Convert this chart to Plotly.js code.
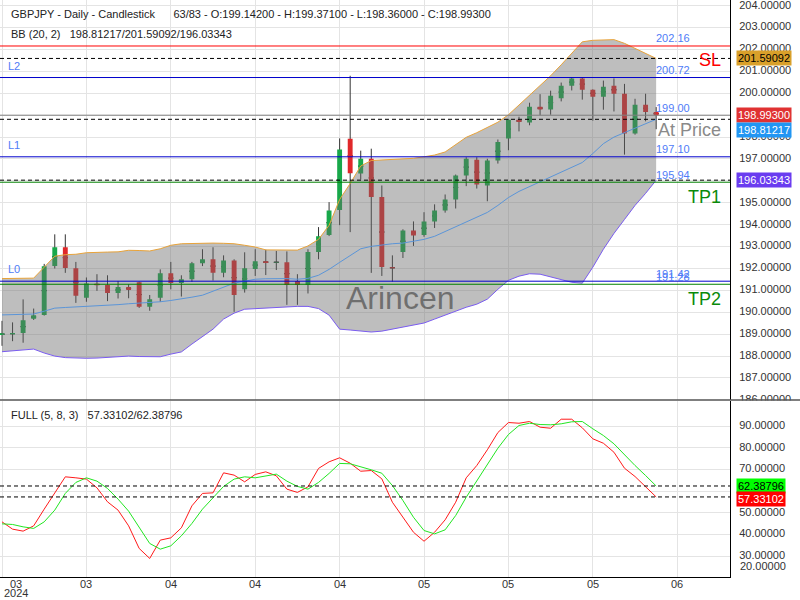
<!DOCTYPE html>
<html><head><meta charset="utf-8">
<script src="https://cdn.plot.ly/plotly-3.0.1.min.js"></script>
<style>body{margin:0;background:#fff}#chart{width:800px;height:600px}</style>
</head><body><div id="chart"></div>
<script>
// ---------- data ----------
const open  = [188.96,189.00,189.05,189.71,189.88,192.11,192.97,192.01,190.66,191.30,
               191.25,190.88,191.16,191.37,190.25,190.66,191.78,191.34,191.51,192.24,
               192.42,191.80,192.37,191.05,191.98,192.33,192.27,192.28,191.43,191.25,
               192.75,193.53,194.67,197.93,196.34,197.01,195.26,192.06,192.75,193.74,
               193.53,194.15,194.65,195.15,196.25,196.97,195.79,196.93,197.94,198.79,
               198.67,199.39,199.26,199.77,200.34,200.68,200.16,199.84,200.34,199.98,
               198.16,199.48,199.142];
const high  = [189.61,189.54,190.59,190.17,192.21,193.56,193.56,192.30,191.59,191.74,
               191.69,191.43,191.28,191.40,190.79,191.96,192.30,191.69,192.30,192.88,
               192.97,192.60,192.42,192.74,192.88,192.86,192.80,192.78,191.74,192.88,
               193.89,195.03,197.94,200.80,197.38,197.47,195.79,192.60,193.79,194.15,
               194.57,194.93,195.38,196.29,197.08,197.08,197.01,197.89,198.83,198.93,
               199.57,199.96,200.12,200.49,200.72,200.72,200.18,200.58,200.68,200.43,
               199.75,199.98,199.371];
const low   = [188.47,188.68,188.61,189.65,189.85,192.00,191.80,190.43,190.48,190.98,
               190.51,190.63,190.64,190.20,190.07,190.48,191.05,190.72,191.39,192.11,
               191.45,191.60,190.02,190.90,191.66,191.70,191.93,190.34,190.34,190.86,
               192.42,193.48,193.98,193.66,196.06,191.80,191.66,191.40,192.48,193.03,
               193.45,193.85,194.55,194.74,195.76,195.65,195.07,196.79,197.40,198.26,
               198.54,199.00,199.02,199.63,200.13,199.71,198.75,199.25,199.17,197.20,
               198.11,198.72,198.36];
const close = [189.04,189.05,189.64,189.86,192.10,192.97,192.02,190.75,191.31,191.24,
               190.88,191.16,191.02,190.25,190.60,191.78,191.34,191.51,192.24,192.42,
               191.80,192.37,190.79,192.01,192.33,192.25,192.30,191.25,191.25,192.75,
               193.47,194.65,197.43,196.35,197.01,195.26,192.07,192.01,193.74,193.51,
               194.15,194.65,195.15,196.25,197.01,195.83,196.93,197.78,198.79,198.69,
               199.39,199.26,199.89,200.34,200.68,200.16,199.84,200.30,199.98,198.16,
               199.48,199.15,198.993];

const bbUpper  = [191.54,191.54,191.54,191.56,192.06,192.56,192.63,192.65,192.72,192.72,
                  192.75,192.76,192.83,192.82,192.80,192.90,193.06,193.13,193.15,193.17,
                  193.16,193.15,193.13,193.06,192.98,192.85,192.84,192.84,192.84,193.03,
                  193.33,193.97,195.15,195.88,196.68,196.93,196.96,196.97,197.01,197.03,
                  197.10,197.18,197.32,197.66,197.99,198.20,198.43,198.68,199.02,199.46,
                  199.89,200.34,200.80,201.30,201.85,202.35,202.42,202.44,202.45,202.28,
                  202.05,201.82,201.59092];
const bbMiddle = [189.88,189.89,189.90,189.92,190.05,190.19,190.22,190.24,190.27,190.29,
                  190.30,190.35,190.39,190.42,190.43,190.48,190.54,190.60,190.69,190.78,
                  190.96,191.14,191.33,191.42,191.51,191.53,191.54,191.54,191.51,191.55,
                  191.69,191.96,192.28,192.60,192.90,193.01,193.08,193.13,193.16,193.24,
                  193.33,193.47,193.69,193.90,194.13,194.33,194.56,194.88,195.24,195.52,
                  195.74,195.97,196.20,196.42,196.65,196.84,197.25,197.70,198.00,198.20,
                  198.41,198.59,198.81217];
const bbLower  = [188.20,188.23,188.28,188.32,188.14,188.00,187.93,187.91,187.90,187.91,
                  187.93,187.98,188.00,187.98,187.97,187.97,188.09,188.19,188.55,188.87,
                  189.23,189.69,189.96,190.14,190.17,190.20,190.22,190.26,190.27,190.27,
                  190.17,189.87,189.23,189.19,189.14,189.10,189.14,189.23,189.32,189.41,
                  189.51,189.69,189.87,190.05,190.23,190.37,190.60,191.05,191.46,191.65,
                  191.76,191.74,191.62,191.49,191.37,191.33,192.06,192.88,193.60,194.24,
                  194.88,195.43,196.03343];

const stochK = [45.85,42.48,41.56,44.00,51.71,59.42,66.62,66.16,65.56,61.54,
                55.08,51.25,44.00,33.58,28.96,37.41,38.47,43.08,53.23,58.96,
                59.23,68.46,67.40,64.31,67.72,68.92,67.08,60.94,59.42,62.00,
                70.49,73.54,75.39,72.89,69.20,69.52,65.69,54.90,47.97,41.05,
                36.90,41.05,46.77,54.90,66.16,71.83,79.08,87.06,91.67,91.35,
                92.14,89.51,89.04,93.20,93.20,89.23,84.15,82.12,77.97,70.59,
                66.76,62.14,57.33102];
const stochD = [44.93,44.63,43.54,42.81,45.85,51.25,58.96,64.03,66.16,64.63,
                61.26,56.33,50.79,43.54,35.88,33.25,34.78,39.39,45.11,51.71,
                56.93,62.19,65.56,66.62,66.16,67.08,67.86,64.63,62.19,60.94,
                64.03,68.19,72.80,72.62,71.37,69.85,68.28,62.60,55.68,47.97,
                41.84,40.30,42.16,48.76,57.20,64.90,72.62,79.82,86.14,90.29,
                91.35,90.75,90.61,91.07,92.00,92.14,88.77,85.68,81.85,76.77,
                71.83,67.22,62.38796];

const monthLabels = ['03','04','04','04','05','05','05','06'];
const firstLabel = ['03','2024'];
const levelValues = [202.16, 200.72, 199.00, 197.10, 195.94, 191.42, 191.28];
const levelNames  = ['SL', 'L2', 'At Price', 'L1', 'TP1', 'L0', 'TP2'];
const NB = '\u00a0';
const headerLine1 = 'GBPJPY - Daily - Candlestick' + NB.repeat(5) + ' 63/83 - O:199.14200 - H:199.37100 - L:198.36000 - C:198.99300';
const headerLine2 = 'BB (20, 2)' + NB.repeat(2) + ' 198.81217/201.59092/196.03343';
const stochTitle  = 'FULL (5, 8, 3)' + NB.repeat(2) + ' 57.33102/62.38796';
const watermark = 'Arincen';

// ---------- geometry / styles ----------
const FONT = 'Liberation Sans, Arial, sans-serif';
const W = 730, H = 577;             // plot area in px
const px = p => p / W;
const py = p => 1 - p / H;
const n = close.length;
const x = close.map((_, i) => i);
const step = 8;
const gridBars = [0.07];
for (let b = step; b <= 64; b += step) gridBars.push(b);
const xRange = [-0.19, 69.0];
const GRID = '#e4e4e4';
const FS = 11;

const levelStyle = {
  'SL':       {color:'#ff0000', side:'right'},
  'L2':       {color:'#0000cc', side:'left'},
  'At Price': {color:'#808080', side:'right'},
  'L1':       {color:'#0000cc', side:'left'},
  'TP1':      {color:'#008000', side:'right'},
  'L0':       {color:'#0000cc', side:'left'},
  'TP2':      {color:'#008000', side:'right'}
};
const nameColor = {'SL':'#ff0000','At Price':'#8a8a8a','TP1':'#0a8a0a','TP2':'#0a8a0a','L2':'#4f7cf7','L1':'#4f7cf7','L0':'#4f7cf7'};

// ---------- traces ----------
const mid = open.map((o, i) => (o + close[i]) / 2);
const wickStyle = {line:{color:'#333333', width:1}, fillcolor:'#333333'};
const traces = [
  {type:'candlestick', x:x, open:mid, high:high, low:low, close:mid,
   increasing:wickStyle, decreasing:wickStyle, whiskerwidth:0,
   hoverinfo:'skip', xaxis:'x', yaxis:'y'},
  {type:'candlestick', x:x, open:open, high:high, low:low, close:close,
   increasing:{line:{color:'#18a84a', width:0}, fillcolor:'#18a84a'},
   decreasing:{line:{color:'#e0282a', width:0}, fillcolor:'#e0282a'},
   whiskerwidth:0, hoverinfo:'skip', xaxis:'x', yaxis:'y'},
  {type:'scatter', mode:'lines', x:x, y:bbLower, line:{color:'#7a5cf0', width:1},
   xaxis:'x', yaxis:'y', hoverinfo:'skip'},
  {type:'scatter', mode:'lines', x:x, y:bbUpper, line:{color:'#e8a33a', width:1},
   fill:'tonexty', fillcolor:'rgba(106,106,106,0.435)',
   xaxis:'x', yaxis:'y', hoverinfo:'skip'},
  {type:'scatter', mode:'lines', x:x, y:bbMiddle, line:{color:'#5b95d8', width:1},
   xaxis:'x', yaxis:'y', hoverinfo:'skip'},
  {type:'scatter', mode:'lines', x:x, y:stochK, line:{color:'#ff1a1a', width:1},
   xaxis:'x2', yaxis:'y2', hoverinfo:'skip'},
  {type:'scatter', mode:'lines', x:x, y:stochD, line:{color:'#22e622', width:1},
   xaxis:'x2', yaxis:'y2', hoverinfo:'skip'}
];

// ---------- shapes ----------
const shapes = [];
levelValues.forEach((v, i) => {
  shapes.push({type:'line', xref:'paper', x0:0, x1:1, yref:'y', y0:v, y1:v,
               line:{color:levelStyle[levelNames[i]].color, width:1}});
});
[bbUpper[n-1], bbMiddle[n-1], bbLower[n-1]].forEach(v => {
  shapes.push({type:'line', xref:'paper', x0:0, x1:1, yref:'y', y0:v, y1:v,
               line:{color:'#000', width:1, dash:'4px,3px'}});
});
[stochD[n-1], stochK[n-1]].forEach(v => {
  shapes.push({type:'line', xref:'paper', x0:0, x1:1, yref:'y2', y0:v, y1:v,
               line:{color:'#000', width:1, dash:'4px,3px'}});
});
// mask for the clipped bottom tick label of the price axis, then panel separator
shapes.push({type:'rect', xref:'paper', x0:px(731), x1:px(800), yref:'paper', y0:py(410), y1:py(400.5),
             fillcolor:'#fff', line:{width:0}});
shapes.push({type:'line', xref:'paper', x0:0, x1:px(800), yref:'paper', y0:py(400), y1:py(400),
             line:{color:'#555', width:1.5}});

// ---------- annotations ----------
const ann = [];
const txt = (text, xv, yv, o) => Object.assign({text:text, x:xv, y:yv, xref:'paper', yref:'paper',
  showarrow:false, xanchor:'left', yanchor:'middle', font:{family:FONT, size:FS, color:'#222'}}, o || {});
ann.push(txt(headerLine1, px(9), py(14)));
ann.push(txt(headerLine2, px(9), py(34)));
ann.push(txt(stochTitle, px(9), py(415)));
ann.push(txt(watermark, px(400), py(298), {xanchor:'center', font:{family:FONT, size:32, color:'rgba(85,85,85,0.75)'}}));

levelValues.forEach((v, i) => {
  const name = levelNames[i];
  ann.push({text:v.toFixed(2), xref:'x', x:n-1, xanchor:'left', xshift:-2, yref:'y', y:v, yanchor:'middle', yshift:7.5,
            showarrow:false, font:{family:FONT, size:FS, color:'#4f7cf7'}});
  if (levelStyle[name].side === 'right') {
    ann.push({text:name, xref:'paper', x:px(723), xanchor:'right', yref:'y', y:v, yanchor:'middle', yshift:-14.5,
              showarrow:false, font:{family:FONT, size:18, color:nameColor[name]}});
  } else {
    ann.push({text:name, xref:'paper', x:px(6), xanchor:'left', yref:'y', y:v, yanchor:'middle', yshift:12,
              showarrow:false, font:{family:FONT, size:FS, color:nameColor[name]}});
  }
});

const tag = (v, yref, bg, fg, shift) => ({text:v.toFixed(5), xref:'paper', x:1, xanchor:'left', xshift:6,
  yref:yref, y:v, yanchor:'middle', yshift:shift || 0, showarrow:false, bgcolor:bg, borderpad:1,
  font:{family:FONT, size:FS, color:fg}});
ann.push(tag(bbUpper[n-1], 'y', '#d9a02a', '#000'));
ann.push(tag(close[n-1], 'y', '#e03232', '#fff'));
ann.push(tag(bbMiddle[n-1], 'y', '#2196f3', '#fff', -10.5));
ann.push(tag(bbLower[n-1], 'y', '#6a3cf0', '#fff'));
ann.push(tag(stochD[n-1], 'y2', '#00ff00', '#000'));
ann.push(tag(stochK[n-1], 'y2', '#ff0000', '#fff', -2));
ann.push(txt('20.00000', 1, py(566), {xshift:8, font:{family:FONT, size:FS, color:'#333'}}));
// x-axis month labels
ann.push(txt(firstLabel[0], px(16), py(583.5), {xanchor:'center', font:{family:FONT, size:FS, color:'#333'}}));
ann.push(txt(firstLabel[1], px(16), py(593), {xanchor:'center', font:{family:FONT, size:FS, color:'#333'}}));
monthLabels.forEach((m, k) => {
  ann.push(txt(m, gridBars[k + 1], py(583.5), {xref:'x2', xanchor:'center', font:{family:FONT, size:FS, color:'#333'}}));
});

// ---------- layout ----------
const tickFont = {family:FONT, size:FS, color:'#333'};
const layout = {
  width:800, height:600, margin:{l:0, r:70, t:0, b:23},
  paper_bgcolor:'#fff', plot_bgcolor:'#fff', showlegend:false, hovermode:false,
  boxgap:0.34,
  xaxis:{domain:[0,1], anchor:'y', range:xRange, tickvals:gridBars, showticklabels:false,
         showgrid:true, gridcolor:GRID, zeroline:false, ticks:'', rangeslider:{visible:false}},
  yaxis:{domain:[py(400),1], anchor:'x', side:'right', range:[185.995, 204.26], dtick:1, tick0:0,
         tickformat:'.5f', showgrid:true, gridcolor:GRID, zeroline:false, showline:true,
         linecolor:'#000', linewidth:1, ticks:'', ticklabelstandoff:6, ticklabelshift:-1,
         ticklabeloverflow:'allow', tickfont:tickFont},
  xaxis2:{domain:[0,1], anchor:'y2', range:xRange, tickvals:gridBars, showticklabels:false,
          showgrid:true, gridcolor:GRID, zeroline:false, ticks:'', showline:true, linecolor:'#000',
          linewidth:1, rangeslider:{visible:false}},
  yaxis2:{domain:[0,py(401)], anchor:'x2', side:'right', range:[20.4, 101.6],
          tickvals:[30,40,50,60,70,80,90], tickformat:'.5f', showgrid:true, gridcolor:GRID,
          zeroline:false, showline:true, linecolor:'#000', linewidth:1, ticks:'',
          ticklabelstandoff:6, ticklabelshift:-1, tickfont:tickFont},
  shapes:shapes, annotations:ann
};
Plotly.newPlot('chart', traces, layout, {staticPlot:true, displayModeBar:false});
</script></body></html>
